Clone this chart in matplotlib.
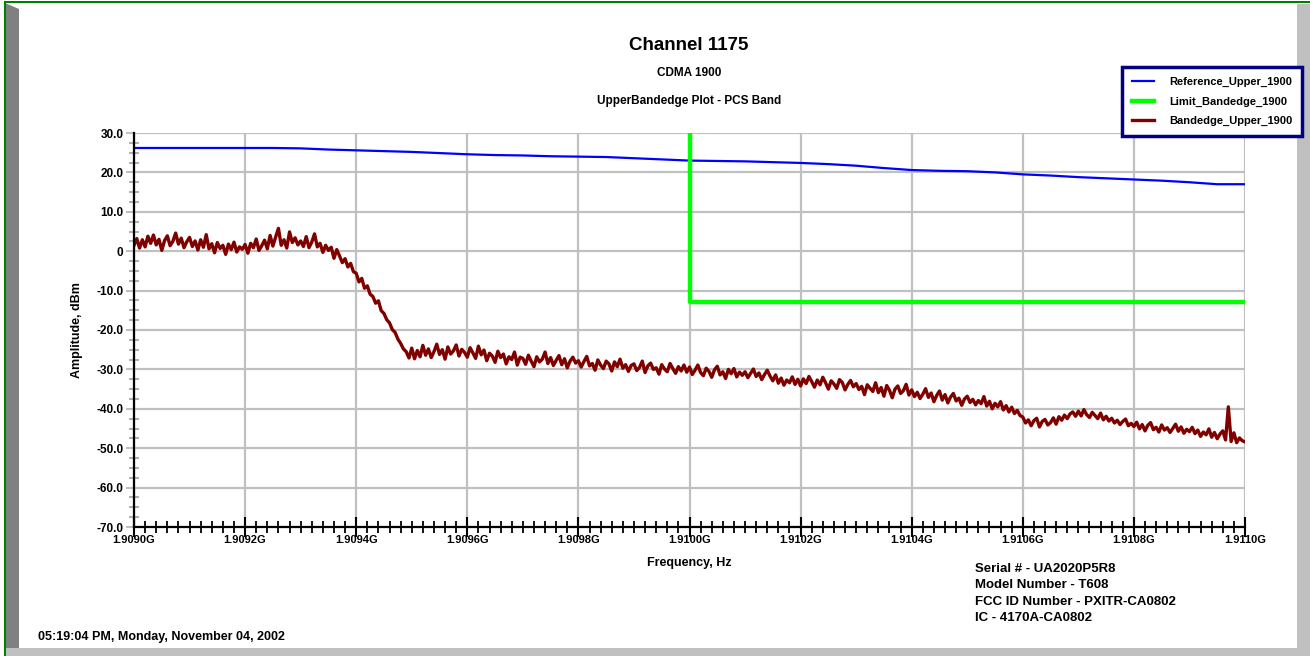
import numpy as np
import matplotlib
matplotlib.use("Agg")
import matplotlib.pyplot as plt
from matplotlib.patches import Rectangle, Polygon
from matplotlib.ticker import FixedLocator

plt.rcParams['font.family'] = ['Liberation Sans', 'DejaVu Sans']
plt.rcParams['font.weight'] = 'bold'

W, H = 1310, 656

# sweep range, GHz
f_start = 1.9090
f_stop = 1.9110

# Reference_Upper_1900, dBm (41 points over the sweep)
reference_upper = [26.2, 26.2, 26.2, 26.2, 26.2, 26.2, 26.1, 25.8, 25.6, 25.4,
                   25.2, 24.9, 24.6, 24.4, 24.3, 24.1, 24.0, 23.9, 23.6, 23.3,
                   23.0, 22.9, 22.8, 22.6, 22.4, 22.1, 21.7, 21.1, 20.6, 20.4,
                   20.3, 20.0, 19.5, 19.2, 18.8, 18.5, 18.2, 17.9, 17.5, 17.0,
                   17.0]

# Limit_Bandedge_1900
limit_freq = [1.9100, 1.9100, 1.9110]
limit_level = [30.0, -13.0, -13.0]

# Bandedge_Upper_1900, dBm (401 points over the sweep)
bandedge_upper = [
    1.5, 3.2, 0.8, 2.9, 1.1, 3.8, 2.0, 4.1, 1.6, 3.0, 0.2, 2.7, 3.9, 1.4, 2.5, 4.6, 1.8, 3.3, 0.9, 2.4,
    3.5, 1.2, 2.6, 0.3, 2.9, 1.0, 4.2, 0.6, 1.9, -0.4, 2.2, 0.7, 1.5, -0.8, 1.8, 0.4, 2.3, -0.2, 1.1, 0.5,
    1.7, -0.5, 2.0, 0.9, 3.1, 0.2, 1.4, 2.8, 0.6, 4.0, 1.3, 3.6, 5.8, 1.5, 2.9, 0.8, 4.9, 2.2, 3.4, 1.6,
    2.6, 1.2, 3.7, 0.9, 2.3, 4.4, 1.1, 2.0, -0.3, 1.5, 0.2, 1.0, -1.8, 0.4, -1.2, -2.9, -1.9, -4.0, -3.1, -5.2,
    -5.6, -7.8, -6.9, -9.4, -8.8, -10.9, -11.5, -13.2, -12.6, -15.1, -15.8, -17.4, -18.2, -19.9, -20.6, -22.3, -23.4, -24.8, -25.5, -27.1,
    -24.6, -27.3, -25.2, -26.8, -23.9, -26.4, -24.8, -27.0, -25.5, -23.6, -26.2, -25.0, -27.4, -24.3, -26.1, -25.3, -23.8, -26.6, -24.9, -25.7,
    -26.9, -24.5, -25.8, -27.2, -24.1, -26.3, -25.1, -27.8, -25.9, -26.6, -28.2, -25.4, -27.0, -26.1, -28.6, -26.8, -27.5, -25.6, -28.9, -26.9,
    -27.2, -28.7, -26.4, -27.9, -29.3, -26.8, -28.1, -27.4, -25.6, -28.5, -27.0, -29.0, -27.7, -26.5, -28.8, -27.3, -29.6, -27.9, -26.9, -28.4,
    -27.8, -29.4, -28.0, -26.7, -29.1, -28.5, -30.2, -27.6, -28.9, -29.8, -27.9, -28.6, -30.4, -28.1, -29.3, -27.4, -29.7, -28.8, -30.5, -29.0,
    -28.6, -30.3, -29.5, -27.9, -30.8, -29.1, -28.4, -30.0, -29.6, -31.2, -28.8, -29.9, -30.6, -28.5, -29.8, -31.0, -29.3, -30.4, -28.9, -30.7,
    -29.4, -31.3, -30.2, -28.9, -30.8, -31.6, -29.7, -30.5, -32.0, -30.1, -29.2, -31.4, -30.6, -32.3, -30.0, -31.1, -29.8, -31.9, -30.7, -31.5,
    -30.6, -32.1, -31.0, -29.9, -31.8, -30.9, -32.6, -31.3, -30.2, -31.7, -32.9, -31.4, -33.5, -32.2, -34.0, -32.7, -33.4, -31.9, -33.8, -32.5,
    -34.2, -32.4, -33.6, -31.8, -33.1, -34.5, -32.7, -33.9, -32.0, -33.4, -35.0, -32.9, -33.7, -34.8, -32.6, -33.3, -35.2, -33.8, -32.8, -34.4,
    -33.6, -35.1, -34.3, -36.4, -33.9, -34.8, -35.6, -33.4, -35.9, -34.6, -36.8, -34.1, -35.3, -37.2, -35.0, -34.2, -36.1, -35.4, -33.8, -36.5,
    -35.2, -36.9, -35.8, -37.4, -36.3, -34.9, -37.1, -36.0, -38.2, -36.6, -35.5, -37.8, -36.4, -38.5, -37.0, -36.1, -38.0, -37.3, -39.1, -37.5,
    -36.8, -38.4, -37.6, -39.0, -37.9, -38.7, -36.9, -39.3, -38.1, -40.0, -38.6, -39.5, -38.2, -40.3, -39.2, -40.8, -39.6, -41.2, -40.4, -41.7,
    -42.1, -43.6, -42.8, -44.3, -43.0, -42.4, -44.6, -43.2, -42.7, -44.1, -43.5, -42.3, -43.9, -42.0, -42.9, -41.6, -42.5, -41.3, -40.8, -41.9,
    -40.6, -41.8, -40.2, -41.5, -42.2, -40.9, -41.7, -42.5, -41.1, -42.8, -41.9, -43.1, -42.4, -43.6, -42.9, -44.0, -43.2, -42.6, -44.3, -43.7,
    -44.5, -43.4, -45.1, -44.0, -45.6, -44.2, -43.5, -45.3, -44.7, -45.9, -44.1, -45.4, -44.8, -46.0, -45.0, -43.9, -45.7, -44.6, -46.2, -45.2,
    -45.8, -44.7, -46.3, -45.4, -47.0, -45.9, -46.6, -45.1, -47.2, -46.0, -47.6, -46.4, -45.6, -47.9, -39.5, -48.3, -46.1, -48.6, -47.4, -48.1,
    -48.4,
]

x_tick_labels = ["1.9090G", "1.9092G", "1.9094G", "1.9096G", "1.9098G", "1.9100G",
                 "1.9102G", "1.9104G", "1.9106G", "1.9108G", "1.9110G"]
y_tick_values = [30, 20, 10, 0, -10, -20, -30, -40, -50, -60, -70]
y_tick_labels = ["30.0", "20.0", "10.0", "0", "-10.0", "-20.0", "-30.0",
                 "-40.0", "-50.0", "-60.0", "-70.0"]

device_info = ["Serial # - UA2020P5R8", "Model Number - T608",
               "FCC ID Number - PXITR-CA0802", "IC - 4170A-CA0802"]
timestamp = "05:19:04 PM, Monday, November 04, 2002"


def fx(x):
    return x / W


def fy(y):
    return 1 - y / H


fig = plt.figure(figsize=(W / 100, H / 100), dpi=100)
fig.patch.set_facecolor('white')

# panel frame: green line, grey bevels
fig.add_artist(Polygon([(fx(5), fy(3)), (fx(19), fy(9)), (fx(19), fy(648)), (fx(5), fy(656))],
                       closed=True, transform=fig.transFigure, facecolor='#808080', edgecolor='none'))
fig.add_artist(Rectangle((fx(5), fy(656)), fx(1305), 8 / H, transform=fig.transFigure,
                         facecolor='#c0c0c0', edgecolor='none'))
fig.add_artist(Rectangle((fx(1297), 0), fx(13), fy(4), transform=fig.transFigure,
                         facecolor='#c0c0c0', edgecolor='none'))
fig.add_artist(Rectangle((fx(4), fy(3)), fx(1306), 1.5 / H, transform=fig.transFigure,
                         facecolor='#008000', edgecolor='none'))
fig.add_artist(Rectangle((fx(4), 0), 1.5 / W, fy(2), transform=fig.transFigure,
                         facecolor='#008000', edgecolor='none'))

ax = fig.add_axes([fx(134), fy(527), fx(1111), 394 / H])
ax.set_facecolor('white')

freq_ref = np.linspace(f_start, f_stop, len(reference_upper))
freq_meas = np.linspace(f_start, f_stop, len(bandedge_upper))

ax.plot(freq_ref, reference_upper, color='#0000ff', lw=1.6, label='Reference_Upper_1900', zorder=3)
ax.plot(limit_freq, limit_level, color='#00ff00', lw=3.2, label='Limit_Bandedge_1900', zorder=4)
ax.plot(freq_meas, bandedge_upper, color='#800000', lw=2.4, label='Bandedge_Upper_1900', zorder=3)

ax.set_xlim(f_start, f_stop)
ax.set_ylim(-70, 30)

x_major = np.linspace(f_start, f_stop, len(x_tick_labels))
ax.xaxis.set_major_locator(FixedLocator(x_major))
ax.set_xticklabels(x_tick_labels)
ax.xaxis.set_minor_locator(FixedLocator(np.linspace(f_start, f_stop, 101)))
ax.yaxis.set_major_locator(FixedLocator(y_tick_values))
ax.set_yticklabels(y_tick_labels)
ax.yaxis.set_minor_locator(FixedLocator(np.arange(-70, 30.1, 2.5)))

ax.grid(True, which='major', color='#c0c0c0', lw=1.6)
ax.set_axisbelow(True)

for side in ('top', 'right'):
    ax.spines[side].set_visible(False)
for side in ('left', 'bottom'):
    ax.spines[side].set_color('black')
    ax.spines[side].set_linewidth(1.6)
    ax.spines[side].set_zorder(5)

ax.tick_params(axis='y', which='major', direction='out', length=6, width=1.5,
               color='#c0c0c0', labelsize=8.5, pad=1.5)
ax.tick_params(axis='y', which='minor', direction='inout', length=7, width=1.5,
               color='#b0b0b0')
ax.tick_params(axis='x', which='major', direction='inout', length=14, width=1.5,
               color='black', labelsize=8, pad=-1)
ax.tick_params(axis='x', which='minor', direction='inout', length=8, width=1.3,
               color='black')
for lab in ax.get_xticklabels() + ax.get_yticklabels():
    lab.set_fontweight('bold')

ax.set_ylabel('Amplitude, dBm', fontsize=9, fontweight='bold', labelpad=10)

fig.text(fx(689), fy(45), 'Channel 1175', ha='center', va='center', fontsize=13.5, fontweight='bold')
fig.text(fx(689), fy(73), 'CDMA 1900', ha='center', va='center', fontsize=8.5, fontweight='bold')
fig.text(fx(689), fy(101), 'UpperBandedge Plot - PCS Band', ha='center', va='center',
         fontsize=8.5, fontweight='bold')
fig.text(fx(689), fy(563), 'Frequency, Hz', ha='center', va='center', fontsize=9, fontweight='bold')

for i, line in enumerate(device_info):
    fig.text(fx(975), fy(569 + i * 16.3), line, ha='left', va='center', fontsize=9.5, fontweight='bold')
fig.text(fx(38), fy(637), timestamp, ha='left', va='center', fontsize=9, fontweight='bold')

leg = fig.legend(loc='upper right', bbox_to_anchor=(fx(1302), fy(67)),
                 prop={'size': 8, 'weight': 'bold'}, fancybox=False, framealpha=1,
                 edgecolor='#000080', handlelength=2.0, borderpad=0.9, labelspacing=0.85,
                 handletextpad=1.3, borderaxespad=0)
leg.get_frame().set_linewidth(2.5)

fig.savefig('out.png', dpi=100)
